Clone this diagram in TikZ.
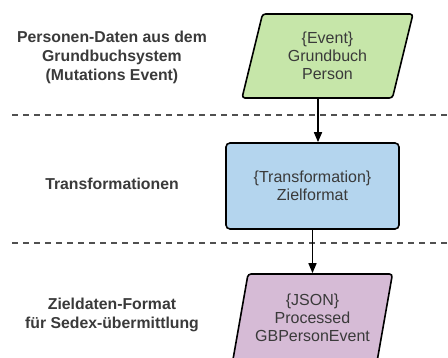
\documentclass[tikz,border=0pt]{standalone}
\usepackage{fontspec}
\setmainfont{Liberation Sans}
\usetikzlibrary{shapes.geometric,arrows.meta}

\definecolor{evgreen}{HTML}{C6E6A9}
\definecolor{trblue}{HTML}{B4D5EE}
\definecolor{jspurple}{HTML}{D6BBD6}
\definecolor{txtgray}{HTML}{3A3A3A}
\definecolor{dashgray}{HTML}{505050}

\tikzset{
  para/.style={draw,line width=1.6pt,rounded corners=3pt,trapezium,
    trapezium stretches=true,text=txtgray,align=center,
    font=\fontsize{16}{18}\selectfont},
  box/.style={draw,line width=1.6pt,rounded corners=4pt,minimum width=173pt,
    minimum height=86pt,text=txtgray,align=center,
    font=\fontsize{16}{18}\selectfont},
  lane/.style={text=txtgray,align=center,font=\fontsize{15.8}{19}\selectfont\bfseries},
  sep/.style={dashgray,line width=1.4pt,dash pattern=on 6pt off 5pt},
  flow/.style={line width=1.6pt,-{Triangle[length=10pt,width=8pt]}}
}

\begin{document}
\begin{tikzpicture}[x=1pt,y=-1pt]
\useasboundingbox (0,0) rectangle (448,358);

% lanes
\node[lane] (l1) at (112,57) {Personen-Daten aus dem\\Grundbuchsystem\\(Mutations Event)};
\node[lane] (l2) at (112,184) {Transformationen};
\node[lane] (l3) at (112,315) {Zieldaten-Format\\für Sedex-übermittlung};

\coordinate (s1a) at (12,115);
\coordinate (s1b) at (448,115);
\coordinate (s2a) at (12,243);
\coordinate (s2b) at (448,243);
\draw[sep] (s1a) -- (s1b);
\draw[sep] (s2a) -- (s2b);

% steps
\node[para,fill=evgreen,minimum width=171pt,minimum height=84pt,
  trapezium left angle=76,trapezium right angle=104] (event) at (327.5,56)
  {\{Event\}\\Grundbuch\\Person};
\node[box,fill=trblue] (trafo) at (312.5,186) {\{Transformation\}\\Zielformat};
\node[para,fill=jspurple,minimum width=160pt,minimum height=88pt,
  trapezium left angle=75,trapezium right angle=105] (json) at (312.5,318)
  {\{JSON\}\\Processed\\GBPersonEvent};

\draw[flow] ([xshift=-9.5pt]event.south) -- ([xshift=5.5pt]trafo.north);
\draw[flow] (trafo.south) -- (trafo.south |- json.north);
\end{tikzpicture}
\end{document}
